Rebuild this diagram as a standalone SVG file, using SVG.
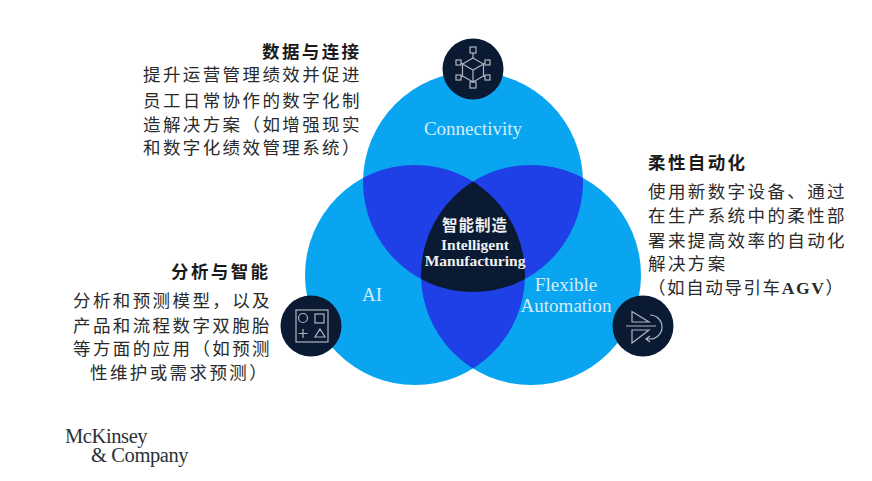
<svg xmlns="http://www.w3.org/2000/svg" width="872" height="481" viewBox="0 0 872 481">
<style>
.t{font-family:"Noto Sans CJK SC","Noto Sans",sans-serif;font-size:17.500px;fill:#2a2a2a;letter-spacing:2.400px}
.h{font-family:"Noto Sans CJK SC",sans-serif;font-size:17.500px;font-weight:700;fill:#1a1a1a;letter-spacing:2.400px}
.l{font-family:"Liberation Serif",serif;font-size:19px;fill:#d4ecfb;text-anchor:middle}
.c{font-family:"Liberation Serif",serif;font-size:15.500px;font-weight:700;fill:#f0f0f0;text-anchor:middle}
.i{fill:none;stroke:#aeb6bf;stroke-width:1.2}
.b{fill:#0a1a33}
.m{font-family:"Liberation Serif",serif;font-size:20.500px;fill:#2a3138;letter-spacing:-.4px}
</style>
<defs>
<clipPath id="ct"><circle cx="473" cy="182" r="110"/></clipPath>
<clipPath id="cl"><circle cx="415" cy="275" r="110"/></clipPath>
</defs>
<rect width="872" height="481" fill="#fff"/>
<g id="venn">
<circle cx="473" cy="182" r="110" fill="#0aa5f0"/>
<circle cx="415" cy="275" r="110" fill="#0aa5f0"/>
<circle cx="531" cy="275" r="110" fill="#0aa5f0"/>
<g clip-path="url(#ct)"><circle cx="415" cy="275" r="110" fill="#1f40e6"/><circle cx="531" cy="275" r="110" fill="#1f40e6"/></g>
<g clip-path="url(#cl)"><circle cx="531" cy="275" r="110" fill="#1f40e6"/></g>
<g clip-path="url(#ct)"><g clip-path="url(#cl)"><circle cx="531" cy="275" r="110" fill="#0a1a33"/></g></g>
</g>
<g id="connectivity">
<text class="l" x="473" y="135">Connectivity</text>
<circle class="b" cx="473" cy="69" r="30.500"/>
<g class="i">
<path d="M473 58l10.500 6v12l-10.500 6-10.500-6v-12zM462.500 64l10.500 6 10.500-6M473 70v12"/>
<rect x="470" y="47" width="6" height="6"/><rect x="470" y="82" width="6" height="6"/>
<rect x="456" y="60" width="5" height="5"/><rect x="485" y="60" width="5" height="5"/>
<rect x="456" y="75" width="5" height="5"/><rect x="485" y="75" width="5" height="5"/>
<path d="M473 53v5M461 63l2 1M483.500 64l1.500-1M461 77l2-1M483.500 76l1.500 1"/>
</g>
<text class="h" x="262" y="58">数据与连接</text>
<text class="t"><tspan x="143" y="81">提升运营管理绩效并促进</tspan><tspan x="143" y="107">员工日常协作的数字化制</tspan><tspan x="143" y="131">造解决方案（如增强现实</tspan><tspan x="143" y="154">和数字化绩效管理系统）</tspan></text>
</g>
<g id="ai">
<text class="l" x="372" y="301">AI</text>
<circle class="b" cx="311" cy="326" r="30.500"/>
<g class="i">
<rect x="296" y="310" width="32" height="32"/>
<circle cx="303" cy="318" r="4.500"/><rect x="315" y="314" width="9" height="9"/>
<path d="M303 329v9M298.500 333.500h9M320 329l5 8h-10z"/>
</g>
<text class="h" x="171" y="278">分析与智能</text>
<text class="t"><tspan x="73" y="307">分析和预测模型，以及</tspan><tspan x="73" y="332">产品和流程数字双胞胎</tspan><tspan x="73" y="355">等方面的应用（如预测</tspan><tspan x="90" y="379">性维护或需求预测）</tspan></text>
</g>
<g id="automation">
<text class="l" x="566" y="291">Flexible</text><text class="l" x="566" y="312">Automation</text>
<circle class="b" cx="643" cy="326" r="30.500"/>
<g class="i">
<path d="M626 326h30M632 322v-10.500l17 10.500zM632 330v13l17-13zM650 315a12 12 0 0 1 0 24l-4 0M650 336l-4 3 4 3"/>
</g>
<text class="h" x="648" y="169">柔性自动化</text>
<text class="t"><tspan x="648" y="198">使用新数字设备、通过</tspan><tspan x="648" y="222">在生产系统中的柔性部</tspan><tspan x="648" y="247">署来提高效率的自动化</tspan><tspan x="648" y="270">解决方案</tspan><tspan x="648" y="294" style="letter-spacing:1.600px">（如自动导引车<tspan font-family="Liberation Serif" font-weight="700">AGV</tspan>）</tspan></text>
</g>
<g id="center">
<text x="475" y="231" text-anchor="middle" style="font-family:'Noto Sans CJK SC',sans-serif;font-size:15.500px;font-weight:700;fill:#eee;letter-spacing:1px">智能制造</text>
<text class="c" x="475" y="250">Intelligent</text>
<text class="c" x="475" y="266">Manufacturing</text>
</g>
<g id="logo">
<text class="m" x="65" y="443">McKinsey</text>
<text class="m" x="91" y="462">&amp; Company</text>
</g>
</svg>
